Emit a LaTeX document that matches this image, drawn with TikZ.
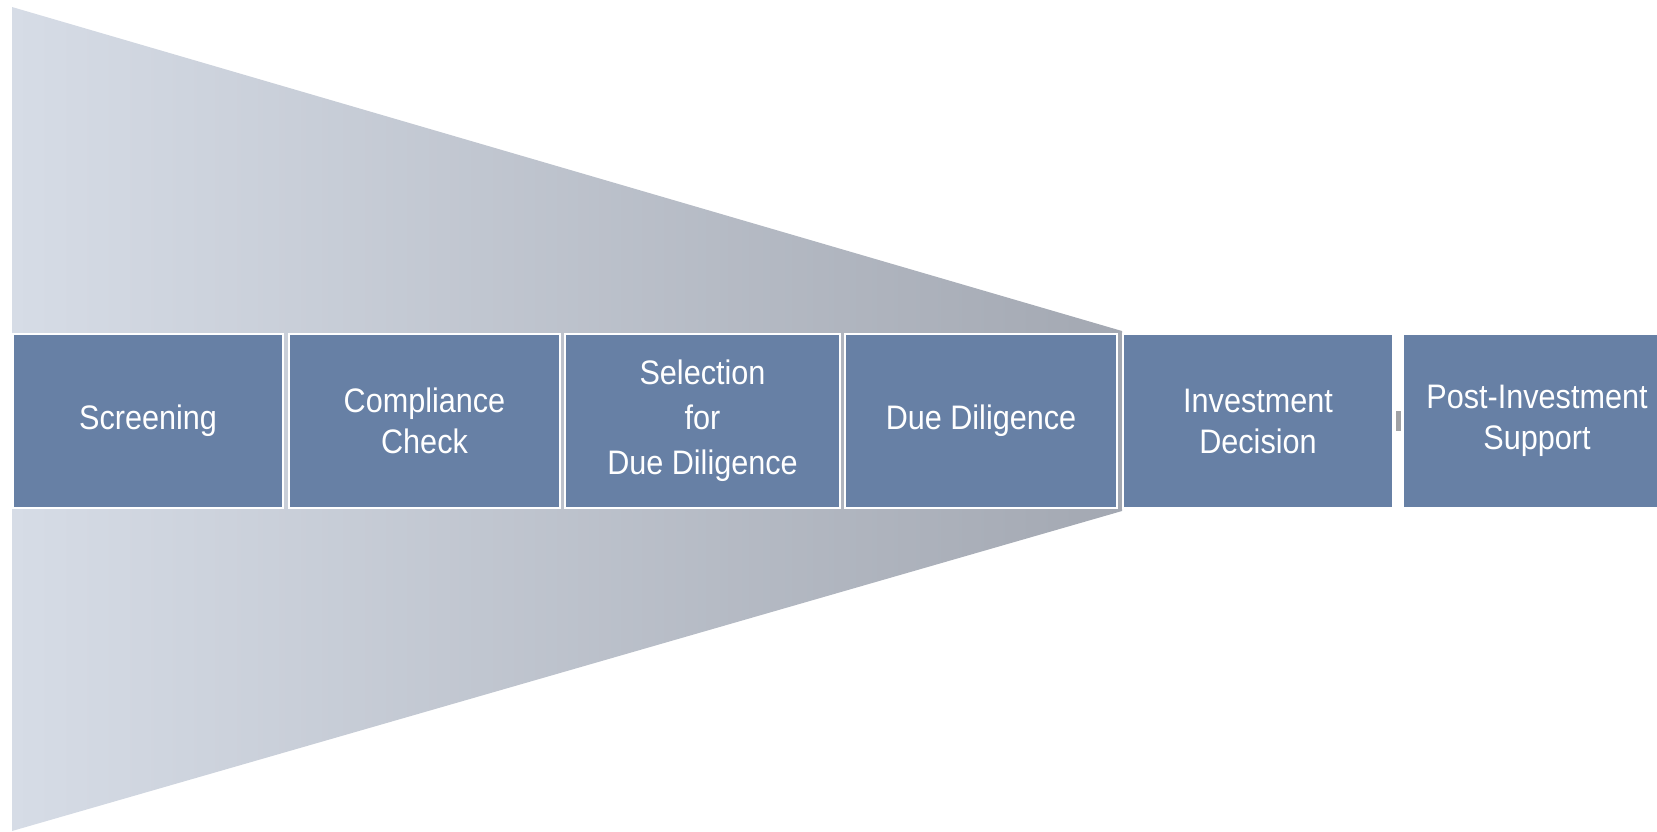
\documentclass[tikz,border=0pt]{standalone}
\usepackage{fontspec}
\setmainfont{Liberation Sans}[FakeStretch=0.9]
\definecolor{boxblue}{RGB}{103,128,165}
\definecolor{funL}{RGB}{214,220,230}
\definecolor{funR}{RGB}{163,168,178}
\definecolor{markgray}{RGB}{160,162,166}
\begin{document}
\begin{tikzpicture}[x=1pt,y=-1pt,
  stage/.style={fill=boxblue, draw=white, line width=2pt, minimum height=174pt,
    text=white, align=center, inner sep=0pt,
    font=\fontsize{34}{41}\selectfont}]
\useasboundingbox (0,0) rectangle (1657,831);
\clip (0,0) rectangle (1657,831);
\shade[left color=funL, right color=funR] (12,7) -- (1122,331) -- (1122,511) -- (12,831) -- cycle;
\node[stage, minimum width=270pt] (s1) at (148,421) {Screening};
\node[stage, minimum width=271pt] (s2) at (424.5,421) {Compliance\\Check};
\node[stage, minimum width=275pt, font=\fontsize{34}{45}\selectfont] (s3) at (702.5,421) {Selection\\for\\Due Diligence};
\node[stage, minimum width=272pt] (s4) at (981,421) {Due Diligence};
\node[stage, minimum width=270pt] (s5) at (1258,421) {Investment\\Decision};
\node[stage, minimum width=268pt] (s6) at (1537,421) {Post-Investment\\Support};
\node[fill=markgray, minimum width=5pt, minimum height=20pt, inner sep=0pt] (mk) at (1398,421) {};
\end{tikzpicture}
\end{document}
